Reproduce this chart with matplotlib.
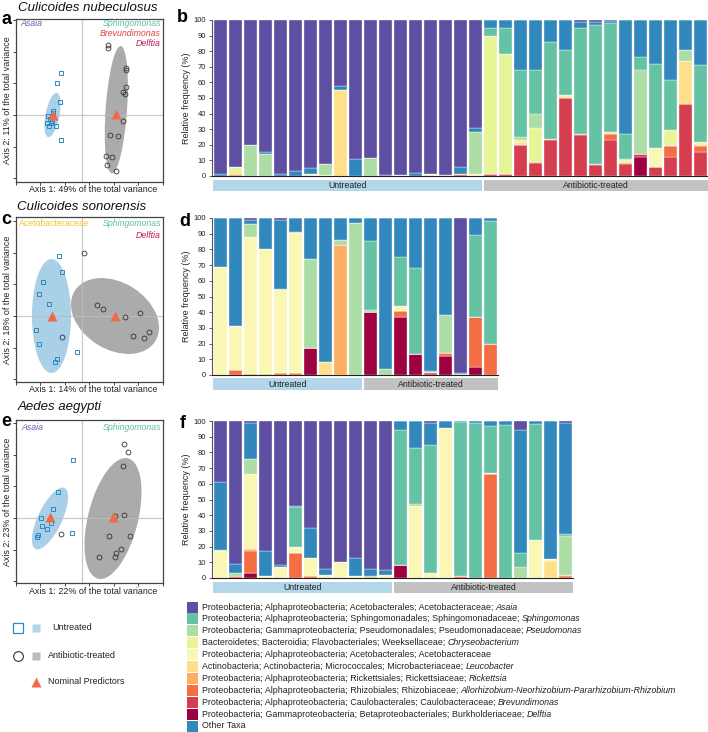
import numpy as np
import matplotlib
matplotlib.use("Agg")
import matplotlib.pyplot as plt
from matplotlib.patches import Ellipse, Rectangle
from matplotlib.transforms import blended_transform_factory

plt.rcParams['font.family'] = ['Liberation Sans', 'DejaVu Sans']

# ---- taxa (legend order) ----
taxa_plain = [
    "Proteobacteria; Alphaproteobacteria; Acetobacterales; Acetobacteraceae;",
    "Proteobacteria; Alphaproteobacteria; Sphingomonadales; Sphingomonadaceae;",
    "Proteobacteria; Gammaproteobacteria; Pseudomonadales; Pseudomonadaceae;",
    "Bacteroidetes; Bacteroidia; Flavobacteriales; Weeksellaceae;",
    "Proteobacteria; Alphaproteobacteria; Acetobacterales; Acetobacteraceae",
    "Actinobacteria; Actinobacteria; Micrococcales; Microbacteriaceae;",
    "Proteobacteria; Alphaproteobacteria; Rickettsiales; Rickettsiaceae;",
    "Proteobacteria; Alphaproteobacteria; Rhizobiales; Rhizobiaceae;",
    "Proteobacteria; Alphaproteobacteria; Caulobacterales; Caulobacteraceae;",
    "Proteobacteria; Gammaproteobacteria; Betaproteobacteriales; Burkholderiaceae;",
    "Other Taxa",
]
taxa_italic = ["Asaia", "Sphingomonas", "Pseudomonas", "Chryseobacterium", "",
               "Leucobacter", "Rickettsia",
               "Allorhizobium-Neorhizobium-Pararhizobium-Rhizobium",
               "Brevundimonas", "Delftia", ""]
taxa_colors = ['#5E4FA2', '#66C2A5', '#ABDDA4', '#E6F598', '#FAF7B4', '#FEE08B',
               '#FDAE61', '#F46D43', '#D53E4F', '#9E0142', '#3288BD']
stack_order = [9, 8, 7, 6, 5, 4, 3, 2, 1, 10, 0]

# relative frequency (%) per bar, values in legend order:
# Asaia, Sphing, Pseudo, Chryseo, Acetob, Leuco, Ricket, Allorh, Brevun, Delftia, Other
b_bars = [
    [99, 0, 0, 0, 0, 0, 0, 0, 0, 0, 1],
    [94, 0, 0, 5, 0, 0, 1, 0, 0, 0, 0],
    [80, 0, 20, 0, 0, 0, 0, 0, 0, 0, 0],
    [84.5, 0, 14, 0, 0, 0, 0, 0, 0, 0, 1.5],
    [99, 0, 0, 0, 0, 0, 0, 0, 0, 0, 1],
    [97, 0, 0, 0, 0, 0, 0, 0, 0, 0, 3],
    [95, 0, 0, 0, 1, 0, 0, 0, 0, 0, 4],
    [92.5, 0, 7, 0, 0.5, 0, 0, 0, 0, 0, 0],
    [42, 0, 0, 0, 0, 55, 0, 0, 0, 0, 3],
    [89, 0, 0, 0, 0, 0, 0, 0, 0, 0, 11],
    [88.5, 0, 11.5, 0, 0, 0, 0, 0, 0, 0, 0],
    [99.5, 0, 0, 0, 0, 0, 0, 0, 0, 0, 0.5],
    [99.5, 0, 0, 0, 0.5, 0, 0, 0, 0, 0, 0],
    [98, 0, 0, 0, 0, 0, 0, 0, 0, 0, 2],
    [98.5, 0, 0, 0, 1, 0, 0, 0, 0, 0, 0.5],
    [99.5, 0, 0.5, 0, 0, 0, 0, 0, 0, 0, 0],
    [94, 0, 0, 0, 0, 0, 0, 1, 0, 0, 5],
    [69, 0, 27, 0, 1, 0, 0, 0, 0, 0, 3],
    [0, 5, 0, 89, 0, 0, 0, 0, 1, 0, 5],
    [0, 17, 0, 77, 0, 0, 0, 0, 1, 0, 5],
    [0, 43, 2, 1, 0, 2, 0, 0, 20, 0, 32],
    [0, 28, 9, 22, 0, 0, 0, 0.5, 8.5, 0, 32],
    [0, 62.5, 0, 0, 0, 0, 0, 0.5, 23, 0, 14],
    [0, 29, 0, 1, 0, 1, 0, 0, 50, 0, 19],
    [1, 68, 0, 0, 0, 0, 0, 1, 26, 0, 4],
    [1, 89, 0, 0.5, 0, 0, 0, 0.5, 7, 0, 2],
    [0.5, 70, 0, 0, 0, 1, 0, 4, 23, 0, 1.5],
    [0, 16, 1, 1, 0, 0.5, 0, 1, 7.5, 0, 73],
    [0, 8, 54, 0, 0, 0, 0, 0, 2, 12, 24],
    [0, 54, 0, 0, 12.5, 0, 0, 0, 5.5, 0, 28],
    [0, 32, 0, 9.5, 0, 1, 0, 6.5, 12.5, 0, 38.5],
    [0, 0, 7, 0, 0, 28, 0, 0, 46, 0, 19],
    [0, 49, 0, 1.5, 0, 1, 0, 4, 15.5, 0, 29],
]
b_untreated = 18

d_bars = [
    [0, 0, 0, 0, 69, 0, 0, 0, 0, 0, 31],
    [0, 0, 0.5, 0, 28, 0, 0, 3, 0, 0, 68.5],
    [1, 0, 8, 0, 87.5, 0, 0, 0.5, 0, 0, 3],
    [0, 0, 0, 0, 80, 0, 0, 0.5, 0, 0, 19.5],
    [1, 0, 1, 0, 52.5, 0, 0, 1.5, 0, 0, 44],
    [0, 0, 0.5, 0, 89.5, 0, 0, 1, 0, 0, 9],
    [0, 0, 57, 0, 0, 0, 0, 0, 0, 17, 26],
    [0, 0, 0, 0, 0, 8, 0, 0, 0, 0, 92],
    [0, 0, 3, 0, 0, 0, 83, 0, 0, 0, 14],
    [0, 0, 97, 0, 0, 0, 0, 0, 0, 0, 3],
    [0, 44, 1.5, 0, 0, 0, 0, 0, 0, 40, 14.5],
    [0, 0, 4, 0, 0, 0, 0, 0, 0, 0, 96],
    [0, 31, 0, 0, 3, 0, 0, 4, 0, 37, 25],
    [0, 54.5, 0, 0, 0, 0, 0, 0, 0, 13.5, 32],
    [0, 0.5, 0, 0, 0, 0, 0, 1, 1, 0, 97.5],
    [0, 0, 24, 0, 0, 0, 0, 2, 0, 12, 62],
    [99, 0, 0.5, 0, 0, 0, 0, 0, 0, 0, 0.5],
    [0, 52, 0, 0, 0, 0, 0, 32, 0, 5, 11],
    [0, 78, 0, 0, 0, 0, 0, 20, 0, 0, 2],
]
d_untreated = 10

f_bars = [
    [39, 0, 1, 0, 17, 0, 0, 0, 0, 0, 43],
    [91, 0, 2, 0, 0, 0, 0, 1, 0, 0, 6],
    [1, 0, 10, 0, 47.5, 0, 1.5, 14, 0, 3, 23],
    [83, 0, 0, 0, 1, 0, 0, 0, 0, 0, 16],
    [92, 0, 0, 0, 7, 0, 0, 0, 0, 0, 1],
    [54, 25, 0, 0, 4, 0, 0, 16, 0, 0, 1],
    [68, 0, 0, 0, 12, 0, 0, 1, 0, 0, 19],
    [94, 0, 0, 0, 2, 0, 0, 0, 0, 0, 4],
    [90, 0, 0, 0, 10, 0, 0, 0, 0, 0, 0],
    [87, 0, 0, 0, 1, 0, 0, 0, 0, 0, 12],
    [94, 0, 1, 0, 0, 0, 0, 0, 0, 0, 5],
    [95, 0, 0, 0, 2, 0, 0, 0, 0, 0, 3],
    [0, 86, 0, 0, 0, 0, 0, 0, 0, 8, 6],
    [0, 36, 1, 0, 46, 0, 0, 0, 0, 0, 17],
    [1, 82, 0, 0, 3, 0, 0, 0, 0, 0, 14],
    [0, 0, 0, 0, 95.5, 0, 0, 0, 0, 0, 4.5],
    [0, 98.5, 0, 0, 0, 0, 0, 1, 0, 0, 0.5],
    [0, 98.5, 0, 0, 0, 0, 0, 0, 0, 0, 1.5],
    [0, 29.5, 0, 0, 1, 0, 0, 66, 0, 0, 3.5],
    [0, 97.5, 0, 0, 0, 0, 0, 0, 0, 0, 2.5],
    [6, 9, 7, 0, 0, 0, 0, 0, 0, 0, 78],
    [0, 74, 0, 0, 24, 0, 0, 0, 0, 0, 2],
    [0, 0, 0, 0, 1, 11, 0, 0, 0, 0, 88],
    [1, 1, 25, 0, 0, 0, 1, 1, 0, 0, 71],
]
f_untreated = 12

# ---- PCoA coordinates ----
a_sq_x = [-0.21, -0.25, -0.22, -0.29, -0.29, -0.34, -0.32, -0.30, -0.35, -0.33, -0.26, -0.21, -0.31]
a_sq_y = [0.42, 0.32, 0.13, 0.04, 0.02, -0.01, -0.04, -0.06, -0.08, -0.11, -0.11, -0.25, -0.08]
a_ci_x = [0.26, 0.26, 0.44, 0.44, 0.44, 0.41, 0.43, 0.41, 0.28, 0.36, 0.24, 0.30, 0.25, 0.34]
a_ci_y = [0.70, 0.67, 0.47, 0.45, 0.28, 0.23, 0.21, -0.06, -0.20, -0.21, -0.41, -0.42, -0.50, -0.56]
a_tri_x = [-0.29, 0.34]
a_tri_y = [0.0, 0.01]
a_ell = [(-0.295, 0.0, 0.45, 0.14, 79), (0.343, 0.053, 1.276, 0.214, 86)]

c_sq_x = [-0.23, -0.20, -0.39, -0.43, -0.33, -0.46, -0.43, -0.05, -0.25, -0.27]
c_sq_y = [0.60, 0.44, 0.34, 0.22, 0.12, -0.14, -0.28, -0.36, -0.43, -0.46]
c_ci_x = [0.02, 0.15, 0.21, 0.43, 0.58, 0.67, 0.51, 0.62, -0.20]
c_ci_y = [0.63, 0.11, 0.07, -0.01, 0.03, -0.16, -0.20, -0.22, -0.21]
c_tri_x = [-0.30, 0.33]
c_tri_y = [0.0, 0.0]
c_ell = [(-0.305, 0.0, 1.14, 0.39, 90), (0.33, 0.0, 0.95, 0.67, -32)]

e_sq_x = [-0.09, -0.24, -0.29, -0.41, -0.31, -0.40, -0.35, -0.10, -0.44, -0.45]
e_sq_y = [0.585, 0.26, 0.09, 0.0, -0.05, -0.08, -0.11, -0.15, -0.165, -0.19]
e_ci_x = [0.42, 0.46, 0.41, 0.33, 0.42, 0.27, 0.48, 0.39, 0.34, 0.17, 0.33, -0.21]
e_ci_y = [0.74, 0.66, 0.52, 0.02, 0.035, -0.18, -0.175, -0.31, -0.35, -0.39, -0.39, -0.16]
e_tri_x = [-0.32, 0.31]
e_tri_y = [0.01, 0.01]
e_ell = [(-0.32, -0.005, 0.675, 0.24, 64.6), (0.31, -0.005, 1.24, 0.5, 76)]

W, H = 708, 732
fig = plt.figure(figsize=(W / 100, H / 100), dpi=100)
fig.patch.set_facecolor('white')


def px_axes(x0, y0, x1, y1):
    return fig.add_axes([x0 / W, 1 - y1 / H, (x1 - x0) / W, (y1 - y0) / H])


def ftext(x, y, s, **kw):
    kw.setdefault('va', 'center')
    return fig.text(x / W, 1 - y / H, s, **kw)


def pcoa(box, ylim, sq_x, sq_y, ci_x, ci_y, tri_x, tri_y, ell, xlab, ylab):
    ax = px_axes(*box)
    ax.set_xlim(-0.66, 0.81)
    ax.set_ylim(*ylim)
    cb, cg = ell
    ax.add_patch(Ellipse(cb[:2], cb[2], cb[3], angle=cb[4], fc='#A9D0E6', ec='none', zorder=1))
    ax.add_patch(Ellipse(cg[:2], cg[2], cg[3], angle=cg[4], fc='#ABABAB', ec='none', zorder=1))
    ax.axhline(0, color='#BDBDBD', lw=0.9, alpha=0.8, zorder=1.5)
    ax.axvline(0, color='#BDBDBD', lw=0.9, alpha=0.8, zorder=1.5)
    ax.plot(sq_x, sq_y, 's', ms=3.3, mfc='none', mec='#2C8AC2', mew=0.7, zorder=3)
    ax.plot(ci_x, ci_y, 'o', ms=3.5, mfc='none', mec='#333333', mew=0.6, zorder=3)
    ax.plot(tri_x, tri_y, '^', ms=6.5, color='#F06A4A', mec='none', zorder=4)
    for s in ax.spines.values():
        s.set_color('#444444')
        s.set_linewidth(0.9)
    ax.set_xticks([-0.66, -0.415, -0.17, 0.075, 0.32, 0.565, 0.81])
    ax.set_yticks([t for t in [-0.634, -0.317, 0, 0.317, 0.634, 0.951] if ylim[0] <= t <= ylim[1]])
    ax.set_xticklabels([])
    ax.set_yticklabels([])
    ax.tick_params(length=2.5, width=0.7, color='#444444', direction='out')
    cx = (box[0] + box[2]) / 2
    ftext(cx + 4, box[3] + 8, xlab, ha='center', fontsize=6.4, color='#222222')
    ftext(8, (box[1] + box[3]) / 2, ylab, ha='center', rotation=90, fontsize=6.4, color='#222222')
    return ax


def bars(x0, y0, y1, data, n_untreated):
    n = len(data)
    ax = px_axes(x0 - 1.5, y0, x0 + 15 * n, y1)
    xs = np.arange(n)
    bottom = np.zeros(n)
    for k in stack_order:
        vals = np.array([row[k] for row in data], dtype=float)
        ax.bar(xs, vals, bottom=bottom, width=0.9, color=taxa_colors[k],
               edgecolor='white', linewidth=0.25)
        bottom += vals
    ax.set_xlim(-0.6, n - 0.5)
    ax.set_ylim(0, 100)
    ax.set_yticks(range(0, 101, 10))
    ax.set_xticks([])
    ax.tick_params(axis='y', labelsize=5.5, length=2.5, width=0.6, pad=1.5,
                   color='#444444', labelcolor='#222222')
    for side in ['top', 'right']:
        ax.spines[side].set_visible(False)
    ax.spines['left'].set_color('#555555')
    ax.spines['left'].set_linewidth(0.8)
    ax.spines['bottom'].set_color('#222222')
    ax.spines['bottom'].set_linewidth(0.8)
    ax.set_ylabel('Relative frequency (%)', fontsize=6.5, labelpad=2, color='#222222')
    trans = blended_transform_factory(ax.transData, ax.transAxes)
    hh = (y1 - y0)
    yb = -15.0 / hh
    ht = 11.5 / hh
    groups = [(-0.5, n_untreated - 0.5, '#B3D6E8', 'Untreated'),
              (n_untreated - 0.5, n - 0.5, '#C2C2C2', 'Antibiotic-treated')]
    for i, (g0, g1, col, lab) in enumerate(groups):
        a0 = g0 + (0.07 if i else 0)
        a1 = g1 - (0 if i else 0.07)
        ax.add_patch(Rectangle((a0, yb), a1 - a0, ht, transform=trans, fc=col,
                               ec='none', clip_on=False))
        ax.text((a0 + a1) / 2, yb + ht / 2, lab, transform=trans, ha='center',
                va='center', fontsize=6.3, color='#222222')
    return ax


# ---- left column: PCoA ----
pcoa((16, 19, 163, 182), (-0.67, 0.96), a_sq_x, a_sq_y, a_ci_x, a_ci_y, a_tri_x, a_tri_y,
     a_ell, 'Axis 1: 49% of the total variance', 'Axis 2: 11% of the total variance')
pcoa((16, 217, 163, 382), (-0.66, 0.99), c_sq_x, c_sq_y, c_ci_x, c_ci_y, c_tri_x, c_tri_y,
     c_ell, 'Axis 1: 14% of the total variance', 'Axis 2: 18% of the total variance')
pcoa((16, 420, 163, 583), (-0.65, 0.98), e_sq_x, e_sq_y, e_ci_x, e_ci_y, e_tri_x, e_tri_y,
     e_ell, 'Axis 1: 22% of the total variance', 'Axis 2: 23% of the total variance')

ftext(18, 8, 'Culicoides nubeculosus', fontsize=9.5, style='italic', color='#111111')
ftext(17, 207, 'Culicoides sonorensis', fontsize=9.5, style='italic', color='#111111')
ftext(18, 407, 'Aedes aegypti', fontsize=9.5, style='italic', color='#111111')

sp = dict(fontsize=6.3, style='italic')
ftext(20, 24, 'Asaia', color='#6A5DB0', **sp)
ftext(161, 24, 'Sphingomonas', color='#5DBFA0', ha='right', **sp)
ftext(161, 34, 'Brevundimonas', color='#E2403F', ha='right', **sp)
ftext(161, 44, 'Delftia', color='#C0135A', ha='right', **sp)
ftext(19, 224, 'Acetobacteraceae', color='#F2C531', fontsize=6.3)
ftext(161, 224, 'Sphingomonas', color='#5DBFA0', ha='right', **sp)
ftext(161, 235, 'Delftia', color='#C0135A', ha='right', **sp)
ftext(21, 428, 'Asaia', color='#6A5DB0', **sp)
ftext(161, 428, 'Sphingomonas', color='#5DBFA0', ha='right', **sp)

# ---- right column: bars ----
bars(213, 20, 176, b_bars, b_untreated)
bars(213, 218, 375, d_bars, d_untreated)
bars(213, 421, 578, f_bars, f_untreated)

for lab, x, y in [('a', 1, 19), ('b', 177, 18), ('c', 1, 219), ('d', 179, 222),
                  ('e', 1, 422), ('f', 180, 423)]:
    ftext(x, y, lab, fontsize=13, fontweight='bold', color='black')

# ---- legends ----
renderer = fig.canvas.get_renderer()
for i in range(len(taxa_plain)):
    y = 607 + 11.9 * i
    fig.patches.append(Rectangle(((187) / W, 1 - (y + 5.5) / H), 11 / W, 11 / H,
                                 transform=fig.transFigure, fc=taxa_colors[i], ec='none'))
    t = ftext(202, y, taxa_plain[i], fontsize=6.4, color='#222222')
    if taxa_italic[i]:
        bb = t.get_window_extent(renderer=renderer)
        ftext(bb.x1 + 2.4, y, taxa_italic[i], fontsize=6.4, style='italic', color='#222222')

lax = fig.add_axes([0, 0, 1, 1], facecolor='none')
lax.set_xlim(0, W)
lax.set_ylim(H, 0)
lax.axis('off')
lax.plot([17.5], [628], 's', ms=7, mfc='white', mec='#2C8AC2', mew=0.9)
lax.plot([36], [628], 's', ms=6, color='#B3D6E8', mec='none')
lax.text(52, 628, 'Untreated', fontsize=6.5, va='center', color='#222222')
lax.plot([17.5], [656], 'o', ms=7, mfc='white', mec='#333333', mew=0.8)
lax.plot([36], [656], 's', ms=6, color='#BDBDBD', mec='none')
lax.text(48, 656, 'Antibiotic-treated', fontsize=6.5, va='center', color='#222222')
lax.plot([36], [682], '^', ms=6.5, color='#F06A4A', mec='none')
lax.text(48, 682, 'Nominal Predictors', fontsize=6.5, va='center', color='#222222')

fig.savefig('out.png', dpi=100, facecolor='white')
